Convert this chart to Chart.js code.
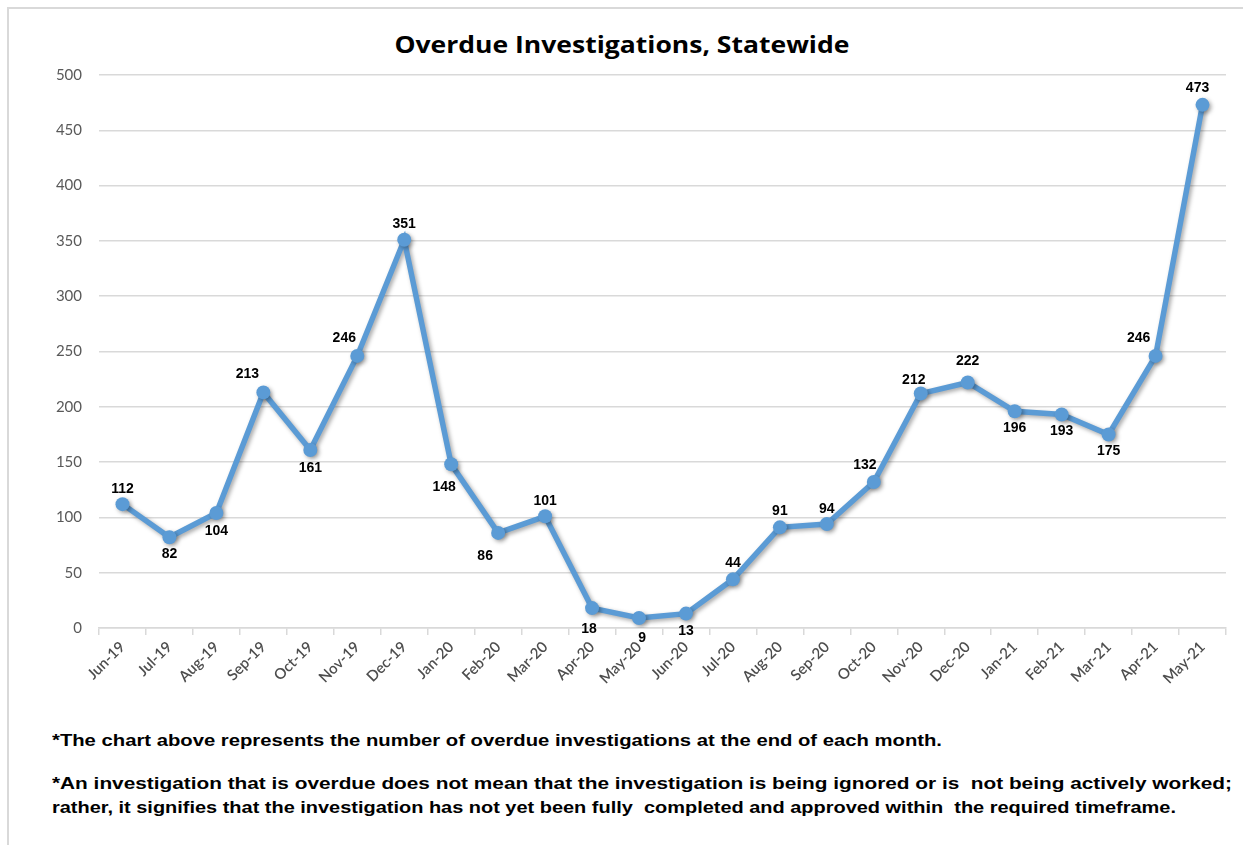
<!DOCTYPE html>
<html>
<head>
<meta charset="utf-8">
<script src="https://cdn.jsdelivr.net/npm/chart.js@4/dist/chart.umd.min.js"></script>
<style>
  html, body { margin: 0; padding: 0; background: #fff; }
  body { width: 1243px; height: 845px; position: relative; overflow: hidden; }
  #frame { position: absolute; left: 7px; top: 7px; width: 1240px; height: 845px;
           border-left: 2px solid #d9d9d9; border-top: 2px solid #d9d9d9; box-sizing: border-box; }
  #wrap { position: absolute; left: 0; top: 0; width: 1243px; height: 700px; }
  #title { position: absolute; left: 0; width: 1243px; top: 27px; text-align: center;
           font: bold 24px "Open Sans", "Noto Sans", sans-serif; color: #000; white-space: nowrap; }
  #title span { display: inline-block; transform-origin: center center; }
  .note { position: absolute; left: 52px; white-space: nowrap; color: #000;
          font: bold 17px "Liberation Sans Narrow", "Liberation Sans", Arial, sans-serif; transform-origin: left center; }
</style>
</head>
<body>
<div id="frame"></div>
<div id="title"><span id="titleText">Overdue Investigations, Statewide</span></div>
<div id="wrap"><canvas id="c" width="1243" height="700"></canvas></div>
<div class="note" id="n1" style="top:731px">*The chart above represents the number of overdue investigations at the end of each month.</div>
<div class="note" id="n2" style="top:774px">*An investigation that is overdue does not mean that the investigation is being ignored or is&nbsp; not being actively worked;</div>
<div class="note" id="n3" style="top:798px">rather, it signifies that the investigation has not yet been fully&nbsp; completed and approved within&nbsp; the required timeframe.</div>
<script>
// ---- data ----
const months = ["Jun-19","Jul-19","Aug-19","Sep-19","Oct-19","Nov-19","Dec-19","Jan-20","Feb-20","Mar-20","Apr-20","May-20",
                "Jun-20","Jul-20","Aug-20","Sep-20","Oct-20","Nov-20","Dec-20","Jan-21","Feb-21","Mar-21","Apr-21","May-21"];
const overdue = [112,82,104,213,161,246,351,148,86,101,18,9,13,44,91,94,132,212,222,196,193,175,246,473];
const yTicks = [0,50,100,150,200,250,300,350,400,450,500];

// label offsets relative to each point (style only)
const labelDx = [0,0,0,-16,0,-13,0,-7,-13,0,-3,3,0,0,0,0,-9,-7,0,0,0,0,-17,-5];
const labelDy = [-15,17,18,-18,18,-18,-16,23,23,-15,21,20,18,-16,-16,-15,-17,-13,-21,17,17,17,-18,-17];

// fit text widths
function fit(el, target) {
  const w = el.getBoundingClientRect().width;
  el.style.transform = 'scaleX(' + (target / w) + ')';
}
fit(document.getElementById('titleText'), 455);
fit(document.getElementById('n1'), 890);
fit(document.getElementById('n2'), 1180);
fit(document.getElementById('n3'), 1124);

const shadowPlugin = {
  id: 'shadow',
  beforeDatasetsDraw(chart) {
    const ctx = chart.ctx; ctx.save();
    ctx.shadowColor = 'rgba(0,0,0,0.35)'; ctx.shadowBlur = 4; ctx.shadowOffsetX = 2; ctx.shadowOffsetY = 2;
  },
  afterDatasetsDraw(chart) { chart.ctx.restore(); }
};

const labelPlugin = {
  id: 'vlabels',
  afterDraw(chart) {
    const ctx = chart.ctx; const meta = chart.getDatasetMeta(0);
    ctx.save();
    ctx.font = 'bold 14px "Liberation Sans", Arial, sans-serif';
    ctx.fillStyle = '#000'; ctx.textAlign = 'center'; ctx.textBaseline = 'middle';
    meta.data.forEach((p, i) => {
      ctx.fillText(String(overdue[i]), p.x + labelDx[i], p.y + labelDy[i]);
    });
    ctx.restore();
  }
};

new Chart(document.getElementById('c'), {
  type: 'line',
  data: {
    labels: months,
    datasets: [{
      data: overdue,
      borderColor: '#5b9bd5',
      backgroundColor: '#5b9bd5',
      borderWidth: 5.5,
      pointRadius: 7,
      pointHoverRadius: 7,
      pointBorderWidth: 0,
      tension: 0,
      fill: false
    }]
  },
  options: {
    responsive: false,
    animation: false,
    events: [],
    layout: { padding: { left: 0, right: 17, top: 75, bottom: 0 } },
    plugins: { legend: { display: false }, title: { display: false }, tooltip: { enabled: false } },
    scales: {
      x: {
        type: 'category',
        offset: true,
        grid: { offset: true, drawOnChartArea: false, color: '#d9d9d9', tickLength: 7, lineWidth: 1.5 },
        border: { color: '#d9d9d9', width: 1.5 },
        ticks: { minRotation: 45, maxRotation: 45, autoSkip: false, color: '#4d4d4d', padding: 3,
                 font: { family: 'Lato, "Open Sans", sans-serif', size: 15, weight: '600' } },
        afterFit(s) { s.height = 72; }
      },
      y: {
        min: 0, max: 500,
        afterBuildTicks(s) { s.ticks = yTicks.map(v => ({ value: v })); },
        grid: { color: '#d9d9d9', lineWidth: 1.5, drawTicks: false },
        border: { display: false },
        ticks: { color: '#595959', padding: 17, font: { family: 'Lato, "Open Sans", sans-serif', size: 15 } },
        afterFit(s) { s.width = 99; }
      }
    }
  },
  plugins: [shadowPlugin, labelPlugin]
});
</script>
</body>
</html>
